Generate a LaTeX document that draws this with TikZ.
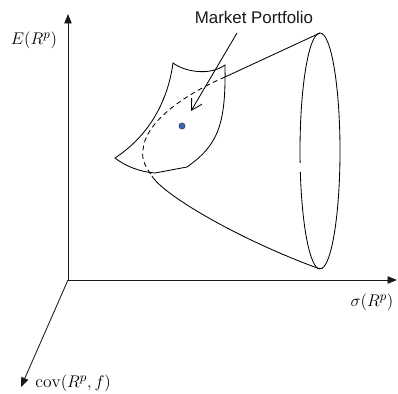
\documentclass[tikz,border=0pt]{standalone}
\usepackage{amsmath}
\usepackage{fontspec}
\usepackage{tikz}
\usetikzlibrary{arrows.meta}
\newfontfamily\mpfont{Liberation Sans}
\definecolor{dotblue}{RGB}{60,100,170}
\definecolor{inkgrey}{RGB}{25,25,25}

\begin{document}
\begin{tikzpicture}[x=0.025cm,y=-0.025cm,line width=0.6pt,
    axis/.style={inkgrey,-{Triangle[length=9pt*0.75,width=7pt*0.75]}},
    axlabel/.style={font=\fontsize{12.5}{14}\selectfont,inner sep=0pt},
    hidden/.style={dash pattern=on 3.5pt off 2.5pt},
    pointer/.style={-{Straight Barb[length=7.5pt,width=8.5pt]}}]
        \useasboundingbox (0,0) rectangle (398,393);
        % Axes
        \coordinate (O) at (68,280);
        \coordinate (ytip) at (68,14);
        \coordinate (xtip) at (397,280);
        \coordinate (ztip) at (21,387);
        \draw[axis] (O) -- (ytip);
        \draw[axis] (O) -- (xtip);
        \draw[axis] (O) -- (ztip);
        % Axis labels
        \node[axlabel] (ylab) at (34,40) {$E(R^p)$};
        \node[axlabel] (xlab) at (372,302) {$\sigma(R^p)$};
        \node[axlabel,anchor=west] (zlab) at (35,383) {$\operatorname{cov}(R^p,f)$};
        % Cone: rim ellipse with a small break
        \coordinate (rim) at (320,151);
        \coordinate (ctop) at (320,33);
        \coordinate (cbot) at (320,269);
        \draw (rim) ++(174.2:20 and 118)
          arc[start angle=174.2,end angle=529.75,x radius=20,y radius=118];
        % Cone: frontier
        \coordinate (sfR) at (225,77);
        \coordinate (nose) at (143,150);
        \coordinate (sfB) at (152,176);
        \draw (ctop) -- (sfR);
        \draw[hidden] (sfR) .. controls (190,92) and (145,120) .. (nose)
          .. controls (141,160) and (147,169) .. (sfB);
        \draw (sfB) .. controls (163,195) and (240,240) .. (cbot);
        % Surface patch
        \coordinate (sTL) at (173,63);
        \coordinate (sTR) at (225,65);
        \coordinate (sBR) at (187,167);
        \coordinate (sBM) at (155,173);
        \coordinate (sL) at (115,158);
        \draw (sTL) .. controls (185,72) and (210,76) .. (sTR)
          .. controls (226,125) and (218,145) .. (sBR)
          -- (sBM)
          .. controls (140,172) and (125,166) .. (sL)
          .. controls (150,135) and (168,100) .. (sTL) -- cycle;
        % Market portfolio
        \node[circle,fill=dotblue,draw=dotblue!60!black,line width=0.3pt,
          inner sep=0pt,minimum size=4.5pt] (mkt) at (182,126) {};
        \node[font=\mpfont\fontsize{12}{14}\selectfont,text=inkgrey] (mp) at (254,17)
          {Market Portfolio};
        \coordinate (mpfrom) at (237,33);
        \coordinate (mptip) at (191,111);
        \draw[pointer] (mpfrom) -- (mptip);
      \end{tikzpicture}
\end{document}
